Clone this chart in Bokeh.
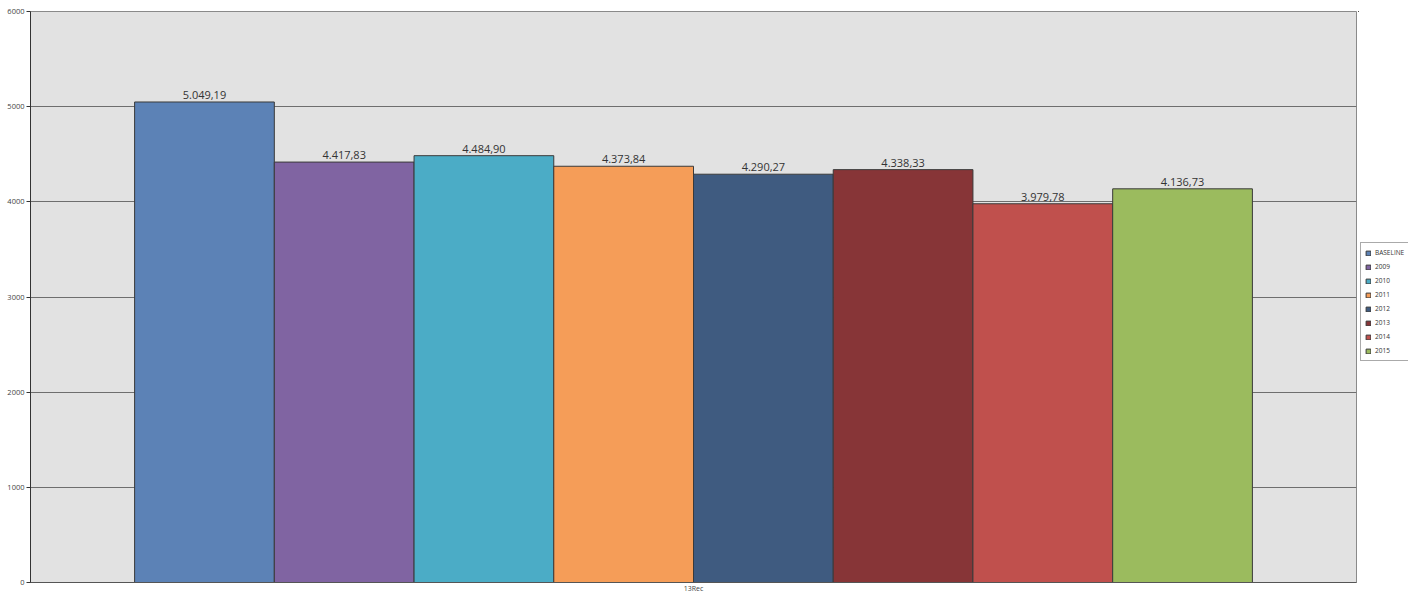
from bokeh.plotting import figure
from bokeh.layouts import row
from bokeh.models import ColumnDataSource, Range1d, FixedTicker, Legend, LegendItem
from bokeh.embed import file_html
from bokeh.resources import INLINE
from bokeh.core.properties import value

series = ["BASELINE", "2009", "2010", "2011", "2012", "2013", "2014", "2015"]
values = [5049.19, 4417.83, 4484.90, 4373.84, 4290.27, 4338.33, 3979.78, 4136.73]
colors = ["#5C82B6", "#8064A2", "#4BACC6", "#F59D58", "#3F5B80", "#873537", "#C0504D", "#9BBB5E"]
category = "13Rec"
y_ticks = [0, 1000, 2000, 3000, 4000, 5000, 6000]


def fmt(v):
    s = f"{v:,.2f}"
    return s.replace(",", "X").replace(".", ",").replace("X", ".")


labels = [fmt(v) for v in values]
xs = list(range(len(series)))

src = ColumnDataSource(dict(x=xs, top=values, color=colors, series=series, label=labels))

FONT = "Open Sans"

p = figure(width=1358, height=595, output_backend="svg", toolbar_location=None,
           x_range=Range1d(-1.245, len(series) - 0.5 + 0.745), y_range=Range1d(0, 6000),
           min_border_left=30, min_border_top=11, min_border_bottom=0, min_border_right=2)
p.border_fill_color = "white"
p.background_fill_color = "#E2E2E2"
p.outline_line_color = "#8A8A8A"
p.outline_line_width = 1

p.xgrid.visible = False
p.ygrid.grid_line_color = "#6E6E6E"
p.ygrid.grid_line_width = 1
p.ygrid.ticker = FixedTicker(ticks=y_ticks)

r = p.vbar(x="x", top="top", width=1.0, bottom=0, fill_color="color", line_color="#3A3A3A",
           line_width=1, source=src)

p.text(x="x", y="top", text="label", source=src, text_align="center", text_baseline="bottom",
       y_offset=-3, text_font=value(FONT), text_font_size="11px", text_color="#333333")

p.yaxis.ticker = FixedTicker(ticks=y_ticks)
p.yaxis.major_label_text_font = FONT
p.yaxis.major_label_text_font_size = "7.5px"
p.yaxis.major_label_text_color = "#444444"
p.yaxis.axis_line_color = "#333333"
p.yaxis.major_tick_line_color = "#333333"
p.yaxis.major_tick_out = 4
p.yaxis.major_tick_in = 0
p.yaxis.minor_tick_line_color = None
p.yaxis.major_label_standoff = 2

p.xaxis.ticker = FixedTicker(ticks=[3.5])
p.xaxis.major_label_overrides = {3.5: category}
p.xaxis.major_label_text_font = FONT
p.xaxis.major_label_text_font_size = "7px"
p.xaxis.major_label_text_color = "#444444"
p.xaxis.axis_line_color = "#555555"
p.xaxis.major_tick_line_color = None
p.xaxis.major_tick_out = 0
p.xaxis.major_tick_in = 0
p.xaxis.minor_tick_line_color = None
p.xaxis.major_label_standoff = 1

# separate narrow panel that only holds the legend (its bars lie outside its ranges)
lf = figure(width=50, height=595, output_backend="svg", toolbar_location=None,
            x_range=Range1d(100, 101), y_range=Range1d(-30000, -20000),
            x_axis_location=None, y_axis_location=None,
            min_border_left=0, min_border_right=0, min_border_top=0, min_border_bottom=0)
lf.outline_line_color = None
lf.background_fill_color = "white"
lf.border_fill_color = "white"
lf.xgrid.visible = False
lf.ygrid.visible = False
lr = lf.vbar(x="x", top="top", width=1.0, bottom=0, fill_color="color", line_color="#3A3A3A",
             line_width=1, source=src)

items = [LegendItem(label=s, renderers=[lr], index=i) for i, s in enumerate(series)]
legend = Legend(items=items, location=(2, 221))
legend.label_text_font = FONT
legend.label_text_font_size = "6.5px"
legend.label_text_color = "#333333"
legend.glyph_width = 6
legend.glyph_height = 6
legend.label_height = 11
legend.label_standoff = 4
legend.spacing = 3
legend.padding = 4
legend.margin = 0
legend.border_line_color = "#555555"
legend.border_line_width = 1
legend.background_fill_color = "white"
lf.add_layout(legend, "center")

layout = row(p, lf, spacing=0)

open("out.html", "w").write(file_html(layout, INLINE))
